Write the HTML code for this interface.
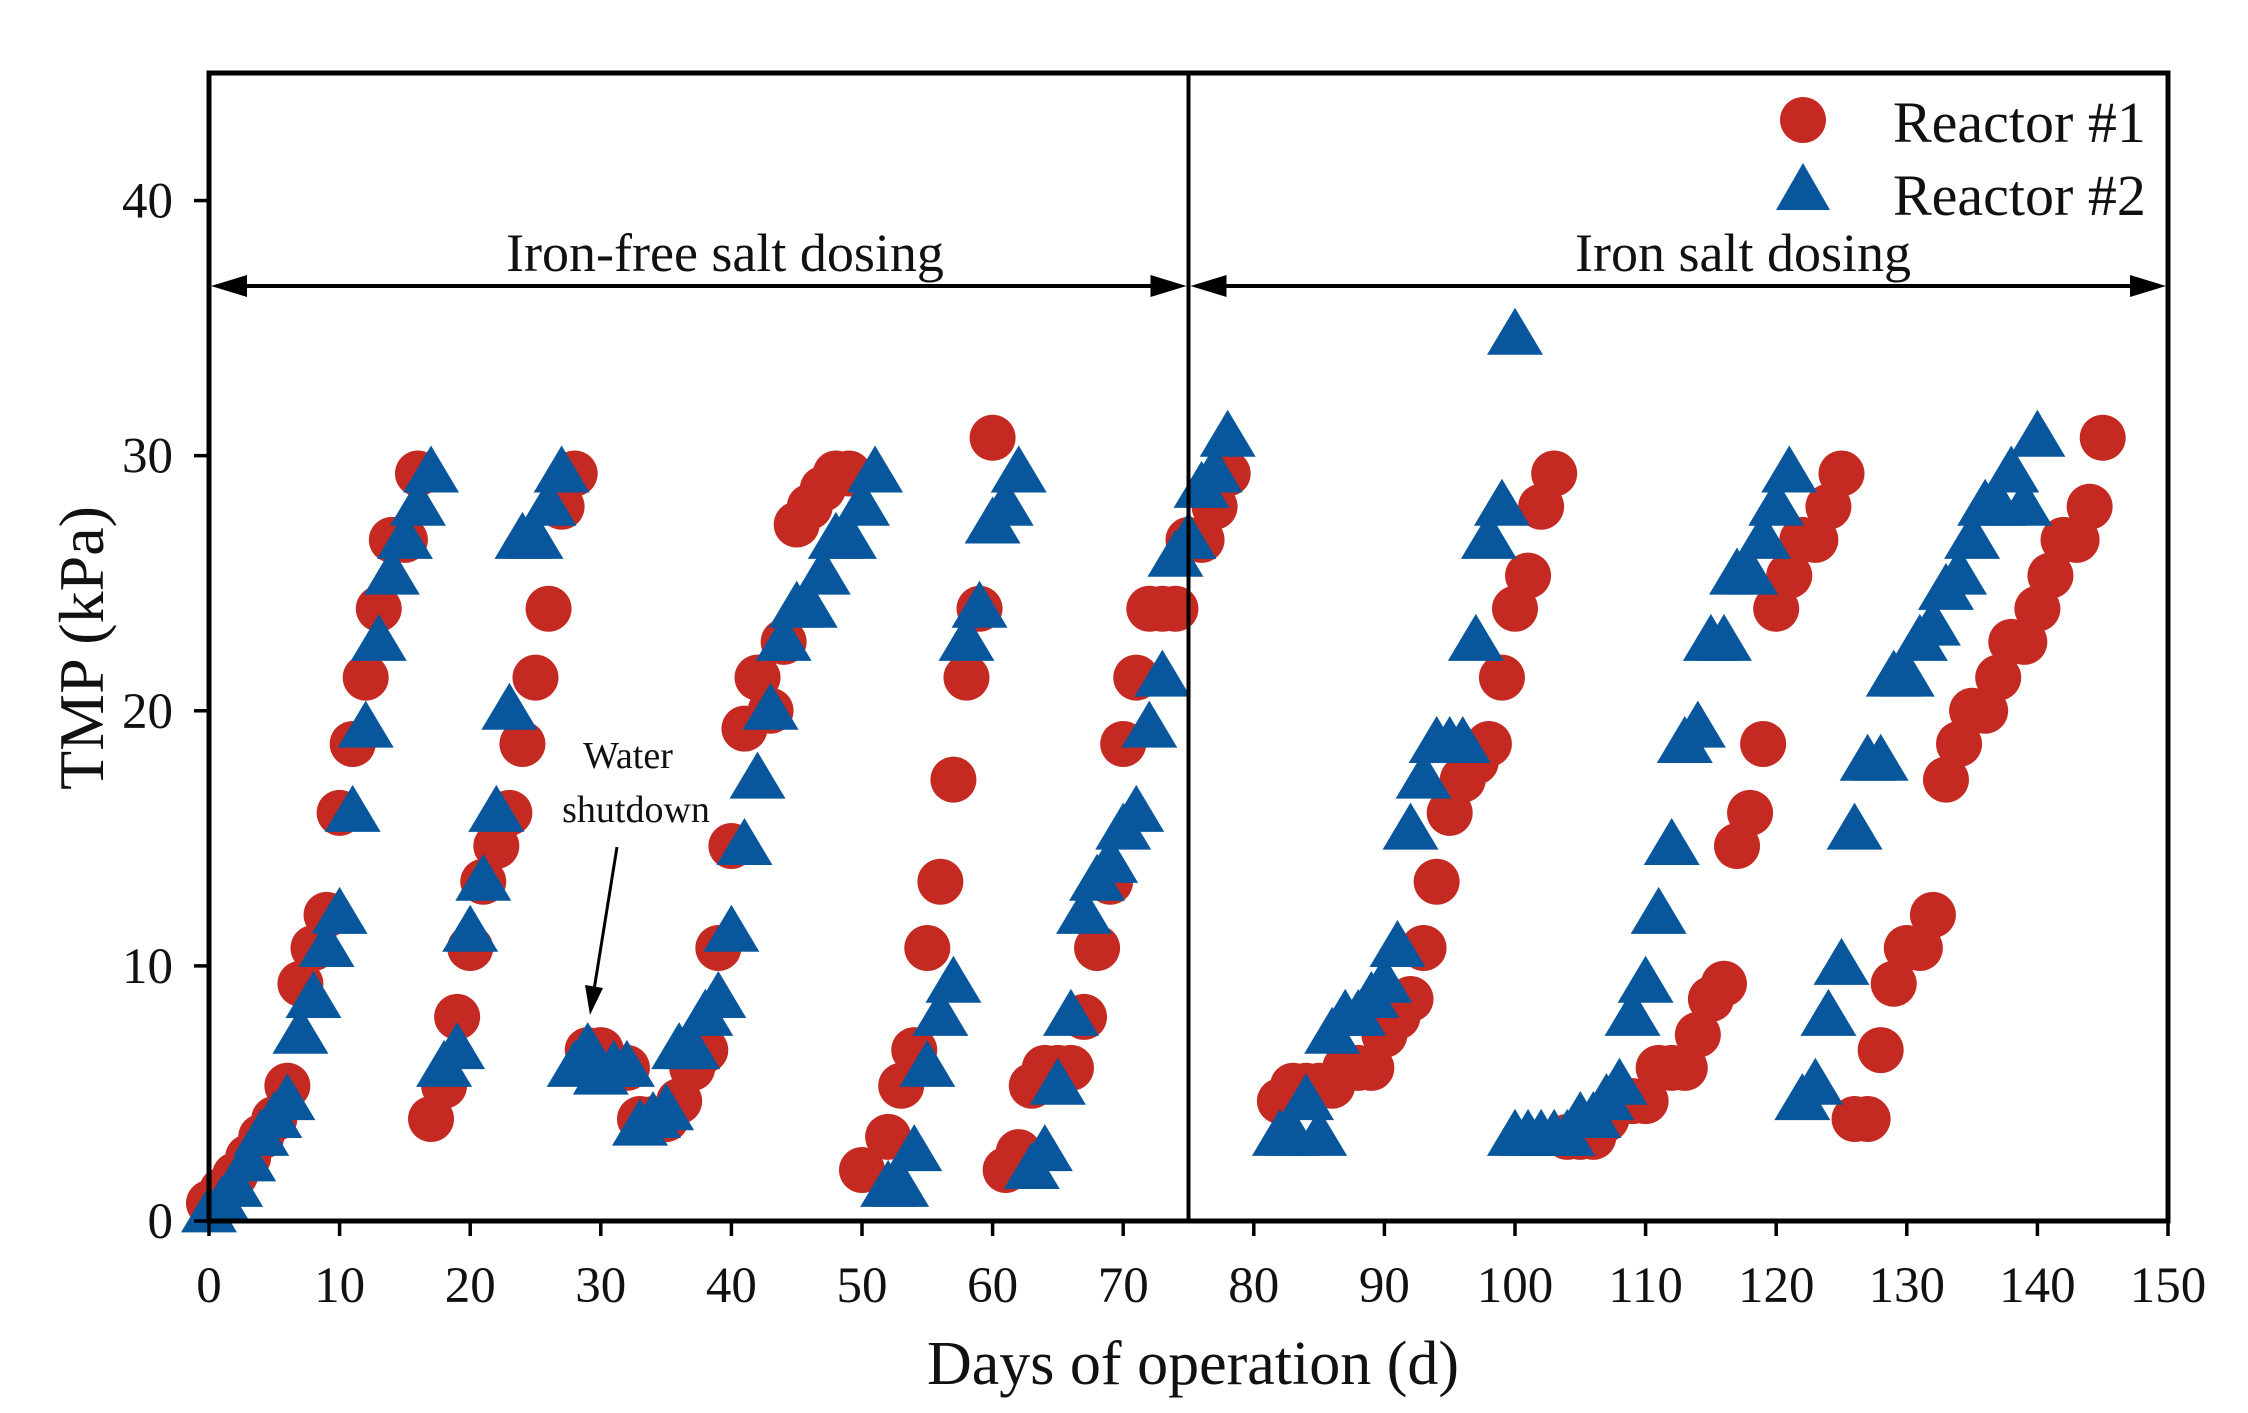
<!DOCTYPE html>
<html><head><meta charset="utf-8"><style>
html,body{margin:0;padding:0;background:#fff}
svg{display:block}
text{font-family:"Liberation Serif",serif;fill:#111}
</style></head><body>
<svg id="chart" width="2248" height="1413" viewBox="0 0 2248 1413" xmlns="http://www.w3.org/2000/svg"></svg>
<script>
const xTicks=[0,10,20,30,40,50,60,70,80,90,100,110,120,130,140,150];
const yTicks=[0,10,20,30,40];
const r1Days=[0,1,2,3,4,5,6,7,8,9,10,11,12,13,14,15,16,17,18,19,20,21,22,23,24,25,26,27,28,29,30,31,32,33,34,35,36,37,38,39,40,41,42,43,44,45,46,47,48,49,50,52,53,54,55,56,57,58,59,60,61,62,63,64,65,66,67,68,69,70,71,72,73,74,75,76,77,78,82,83,84,85,86,87,88,89,90,91,92,93,94,95,96,97,98,99,100,101,102,103,104,105,106,107,108,109,110,111,112,113,114,115,116,117,118,119,120,121,122,123,124,125,126,127,128,129,130,131,132,133,134,135,136,137,138,139,140,141,142,143,144,145];
const r1Tmp=[0.7,1.2,1.8,2.5,3.3,4,5.3,9.3,10.7,12,16,18.7,21.3,24,26.7,26.7,29.3,4,5.3,8,10.7,13.3,14.7,16,18.7,21.3,24,28,29.3,6.7,6.7,6,6,4,4,4,4.7,6,6.7,10.7,14.7,19.3,21.3,20,22.7,27.3,28,28.7,29.3,29.3,2,3.3,5.3,6.7,10.7,13.3,17.3,21.3,24,30.7,2,2.7,5.3,6,6,6,8,10.7,13.3,18.7,21.3,24,24,24,26.7,26.7,28,29.3,4.7,5.3,5.3,5.3,5.3,6,6,6,7.3,8,8.7,10.7,13.3,16,17.3,18,18.7,21.3,24,25.3,28,29.3,3.3,3.3,3.3,4,4.7,4.7,4.7,6,6,6,7.3,8.7,9.3,14.7,16,18.7,24,25.3,26.7,26.7,28,29.3,4,4,6.7,9.3,10.7,10.7,12,17.3,18.7,20,20,21.3,22.7,22.7,24,25.3,26.7,26.7,28,30.7];
const r2Days=[0,1,2,3,4,5,6,7,8,9,10,11,12,13,14,15,16,17,18,19,20,21,22,23,24,25,26,27,28,29,30,31,32,33,34,35,36,37,38,39,40,41,42,43,44,45,46,47,48,49,50,51,52,53,54,55,56,57,58,59,60,61,62,63,64,65,66,67,68,69,70,71,72,73,74,75,76,77,78,82,83,84,85,86,87,88,89,90,91,92,93,94,95,96,97,98,99,100,100,101,102,103,104,105,106,107,108,109,110,111,112,113,114,115,116,117,118,119,120,121,122,123,124,125,126,127,128,129,130,131,132,133,134,135,136,137,138,139,140];
const r2Tmp=[0.3,0.7,1.3,2.3,3.3,4,4.7,7.3,8.7,10.7,12,16,19.3,22.7,25.3,26.7,28,29.3,6,6.7,11.3,13.3,16,20,26.7,26.7,28,29.3,6,6.7,5.7,6,6,3.7,4,4.3,6.7,6.7,8,8.7,11.3,14.7,17.3,20,22.7,24,24,25.3,26.7,26.7,28,29.3,1.3,1.3,2.7,6,8,9.3,22.7,24,27.3,28,29.3,2,2.7,5.3,8,12,13.3,14,15.3,16,19.3,21.3,26,26.7,28.7,29.3,30.7,3.3,3.3,4.7,3.3,7.3,8,8,8.7,9.3,10.7,15.3,17.3,18.7,18.7,18.7,22.7,26.7,28,34.7,3.3,3.3,3.3,3.3,3.3,4,4,4.7,5.3,8,9.3,12,14.7,18.7,19.3,22.7,22.7,25.3,25.3,26.7,28,29.3,4.7,5.3,8,10,15.3,18,18,21.3,21.3,22.7,23.3,24.7,25.3,26.7,28,28,29.3,28,30.7];

const NS="http://www.w3.org/2000/svg";
const svg=document.getElementById('chart');
const L=209,R=2168,T=73,B=1221,XMAX=150,YMAX=45;
const sx=v=>L+(R-L)*v/XMAX;
const sy=v=>B-(B-T)*v/YMAX;
function el(tag,attrs,parent){const e=document.createElementNS(NS,tag);for(const k in attrs)e.setAttribute(k,attrs[k]);(parent||svg).appendChild(e);return e;}

const g1=el('g',{});


r1Days.forEach((d,i)=>{
  const c=el('circle',{cx:sx(d),cy:sy(r1Tmp[i]),r:23,fill:'#c42a22'},g1);
  
  
});
const g2=el('g',{});


r2Days.forEach((d,i)=>{
  const x=sx(d),y=sy(r2Tmp[i]);
  const p=el('polygon',{points:`${x},${y-28} ${x-28},${y+19} ${x+28},${y+19}`,fill:'#08579c'},g2);
  
  
});

const fr=el('rect',{x:L,y:T,width:R-L,height:B-T,fill:'none',stroke:'#000','stroke-width':5});


const vl=el('line',{x1:sx(75),y1:T,x2:sx(75),y2:B,stroke:'#000','stroke-width':4});



xTicks.forEach(t=>{
  const l=el('line',{x1:sx(t),y1:B,x2:sx(t),y2:B+15,stroke:'#000','stroke-width':3.5});
  
  
  const tx=el('text',{x:sx(t),y:1302,'text-anchor':'middle','font-size':51});
  tx.textContent=t;
  
  
});
yTicks.forEach(t=>{
  const l=el('line',{x1:L-15,y1:sy(t),x2:L,y2:sy(t),stroke:'#000','stroke-width':3.5});
  
  
  const tx=el('text',{x:173,y:sy(t)+17,'text-anchor':'end','font-size':51});
  tx.textContent=t;
  
  
});

const xt=el('text',{x:1193,y:1384,'text-anchor':'middle','font-size':62});
xt.textContent='Days of operation (d)';


const yt=el('text',{x:0,y:0,'text-anchor':'middle','font-size':64,transform:'translate(103,648) rotate(-90)'});
yt.textContent='TMP (kPa)';



const AY=286;
function dblArrow(x1,x2,name){
  const g=el('g',{});
  
  
  el('line',{x1:x1+30,y1:AY,x2:x2-30,y2:AY,stroke:'#000','stroke-width':4},g);
  el('polygon',{points:`${x1+2},${AY} ${x1+38},${AY-11} ${x1+38},${AY+11}`,fill:'#000'},g);
  el('polygon',{points:`${x2-2},${AY} ${x2-38},${AY-11} ${x2-38},${AY+11}`,fill:'#000'},g);
}
dblArrow(L,sx(75),'iron-free-phase-arrow');
dblArrow(sx(75),R,'iron-phase-arrow');
const p1=el('text',{x:725,y:271,'text-anchor':'middle','font-size':54});
p1.textContent='Iron-free salt dosing';


const p2=el('text',{x:1743,y:271,'text-anchor':'middle','font-size':54});
p2.textContent='Iron salt dosing';



const a1=el('text',{x:628,y:768,'text-anchor':'middle','font-size':38});
a1.textContent='Water';


const a2=el('text',{x:636,y:822,'text-anchor':'middle','font-size':38});
a2.textContent='shutdown';


const ag=el('g',{});


el('line',{x1:617,y1:847,x2:594,y2:990,stroke:'#000','stroke-width':3},ag);
el('polygon',{points:`590,1015 585,985 603,988`,fill:'#000'},ag);

const lg=el('g',{});


const le1=el('g',{},lg);


el('circle',{cx:1803,cy:120,r:23,fill:'#c42a22'},le1);
const lt1=el('text',{x:1893,y:142,'font-size':58},le1);
lt1.textContent='Reactor #1';
const le2=el('g',{},lg);


el('polygon',{points:'1803,163 1776,210 1830,210',fill:'#08579c'},le2);
const lt2=el('text',{x:1893,y:215,'font-size':58},le2);
lt2.textContent='Reactor #2';
</script>
</body></html>
